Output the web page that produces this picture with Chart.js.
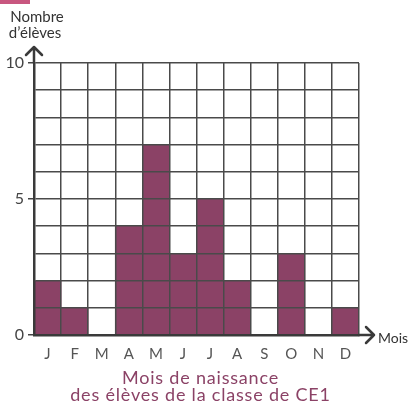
<!DOCTYPE html>
<html>
<head>
<meta charset="utf-8">
<script src="https://cdn.jsdelivr.net/npm/chart.js@4"></script>
<style>
  html, body { margin: 0; padding: 0; background: #fff; }
  #wrap { position: relative; width: 408px; height: 403px; }
  #mark { position: absolute; left: 0; top: 0; width: 30px; height: 4px; background: #c8577f; }
</style>
</head>
<body>
<div id="wrap">
  <canvas id="chart" width="408" height="403"></canvas>
  <div id="mark"></div>
</div>
<script>
// mois de naissance
var categories = ['J', 'F', 'M', 'A', 'M', 'J', 'J', 'A', 'S', 'O', 'N', 'D'];
var eleves = [2, 1, 0, 4, 7, 3, 5, 2, 0, 3, 0, 1];
var yTicks = [0, 5, 10];

var FONT = 'Lato, "Noto Sans", sans-serif';
var PURPLE = '#8b4266';
var GRID = '#4a4a4a';

var extras = {
  id: 'extras',
  afterDraw: function (chart) {
    var ctx = chart.ctx;
    var a = chart.chartArea;
    ctx.save();
    ctx.strokeStyle = '#3a3a3a';
    ctx.lineWidth = 2.5;
    ctx.lineCap = 'round';
    ctx.lineJoin = 'round';
    // fleche verticale
    ctx.beginPath();
    ctx.moveTo(a.left, a.top);
    ctx.lineTo(a.left, a.top - 16);
    ctx.moveTo(a.left - 8, a.top - 8);
    ctx.lineTo(a.left, a.top - 16);
    ctx.lineTo(a.left + 8, a.top - 8);
    ctx.stroke();
    // fleche horizontale
    ctx.beginPath();
    ctx.moveTo(a.right, a.bottom);
    ctx.lineTo(a.right + 15, a.bottom);
    ctx.moveTo(a.right + 7, a.bottom - 8);
    ctx.lineTo(a.right + 15, a.bottom);
    ctx.lineTo(a.right + 7, a.bottom + 8);
    ctx.stroke();

    ctx.fillStyle = '#333';
    ctx.font = '15px ' + FONT;
    ctx.textAlign = 'center';
    ctx.textBaseline = 'middle';
    ctx.fillText('Nombre', 37, 17);
    ctx.fillText('d\u2019élèves', 35, 33);
    ctx.textAlign = 'left';
    ctx.font = '14px ' + FONT;
    ctx.fillText('Mois', a.right + 19, a.bottom + 3);

    ctx.fillStyle = PURPLE;
    ctx.font = '18px ' + FONT;
    ctx.letterSpacing = '0.8px';
    ctx.textAlign = 'center';
    var cx = (a.left + a.right) / 2 + 4;
    ctx.fillText('Mois de naissance', cx, 378);
    ctx.fillText('des élèves de la classe de CE1', cx, 395);
    ctx.restore();
  }
};

new Chart(document.getElementById('chart'), {
  type: 'bar',
  data: {
    labels: categories,
    datasets: [{
      data: eleves,
      backgroundColor: PURPLE,
      borderWidth: 0,
      barPercentage: 1,
      categoryPercentage: 1
    }]
  },
  options: {
    responsive: false,
    animation: false,
    devicePixelRatio: 1,
    layout: { padding: { left: 0, top: 63, right: 49, bottom: 38 } },
    plugins: { legend: { display: false }, tooltip: { enabled: false } },
    scales: {
      x: {
        grid: { z: 1, color: GRID, lineWidth: 1.5, offset: true, drawTicks: false },
        border: { z: 2, color: '#3a3a3a', width: 2.5 },
        ticks: { color: '#555', font: { family: FONT, size: 15 }, padding: 10 },
        afterFit: function (scale) { scale.height = 30; }
      },
      y: {
        min: 0,
        max: 10,
        ticks: {
          stepSize: 1,
          color: '#444',
          font: { family: FONT, size: 16 },
          padding: 4,
          callback: function (v) { return yTicks.indexOf(v) >= 0 ? v : ''; }
        },
        grid: {
          z: 1,
          color: GRID,
          lineWidth: 1.5,
          tickLength: 6,
          tickColor: function (c) { return c.tick && yTicks.indexOf(c.tick.value) >= 0 ? '#444' : 'rgba(0,0,0,0)'; }
        },
        border: { z: 2, color: '#3a3a3a', width: 2.5 },
        afterFit: function (scale) { scale.width = 34; }
      }
    }
  },
  plugins: [extras]
});
</script>
</body>
</html>
